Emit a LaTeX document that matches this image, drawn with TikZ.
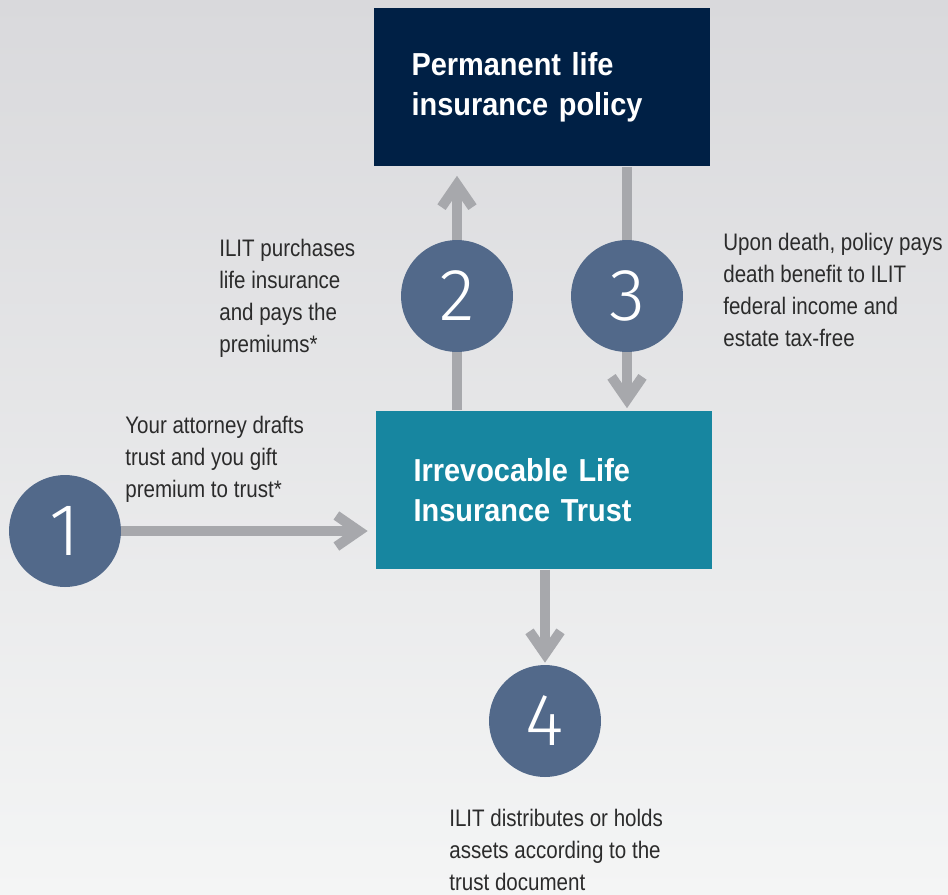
\documentclass[tikz,border=0pt]{standalone}
\usepackage{fontspec}
\setmainfont{Liberation Sans}
\newfontfamily\labelfont{Liberation Sans}[FakeStretch=0.86]
\newfontfamily\titlefont{Liberation Sans}[FakeStretch=0.91]
\newfontfamily\digitfont{Fira Sans}[UprightFont={* Light}]
\usetikzlibrary{arrows.meta, positioning}
\definecolor{policynavy}{RGB}{0, 32, 69}
\definecolor{trustteal}{RGB}{23, 134, 160}
\definecolor{stepblue}{RGB}{82, 105, 138}
\definecolor{arrowgray}{RGB}{167, 168, 172}
\definecolor{textgray}{RGB}{43, 43, 43}
\definecolor{bgtop}{RGB}{217, 217, 220}
\definecolor{bgbottom}{RGB}{244, 245, 245}
\pgfdeclarelayer{backdrop}
\pgfdeclarelayer{flow}
\pgfsetlayers{backdrop,flow,main}

\begin{document}
\begin{tikzpicture}[
    x=0.02cm, y=-0.02cm,
    box/.style={rectangle, minimum width=6.72cm, minimum height=3.18cm, inner xsep=0.75cm,
                text width=5.22cm, align=left, text=white,
                font=\titlefont\bfseries\fontsize{18.1}{22.7}\selectfont},
    stepdot/.style={circle, fill=stepblue, minimum size=2.24cm, inner sep=0pt, text=white,
                font=\digitfont\fontsize{42}{42}\selectfont},
    note/.style={anchor=north west, inner sep=0pt, align=left, text=textgray,
                font=\labelfont\fontsize{13.6}{18.2}\selectfont},
    arrow/.style={-{Straight Barb[length=0.45cm, width=0.62cm]}, line width=0.2cm, arrowgray}
]
\begin{pgfonlayer}{backdrop}
\shade[top color=bgtop, bottom color=bgbottom] (0,0) rectangle (948,894);
\end{pgfonlayer}
\useasboundingbox (0,0) rectangle (948,894);

% boxes
\node[box, fill=policynavy] (policy) at (542,87) {Permanent life\\insurance policy};
\node[box, fill=trustteal] (trust) at (544,490) {Irrevocable Life\\Insurance Trust};

% numbered steps
\node[stepdot] (one) at (65,531) {1};
\node[stepdot] (two) at (457,296) {2};
\node[stepdot] (three) at (627,296) {3};
\node[stepdot] (four) at (545,721) {4};

% step texts
\node[note] (drafttext) at (125,416) {Your attorney drafts\\trust and you gift\\premium to trust*};
\node[note] (buytext) at (219,239) {ILIT purchases\\life insurance\\and pays the\\premiums*};
\node[note] (paytext) at (723,233) {Upon death, policy pays\\death benefit to ILIT\\federal income and\\estate tax-free};
\node[note] (holdtext) at (449,809) {ILIT distributes or holds\\assets according to the\\trust document};

\begin{pgfonlayer}{flow}
\draw[arrow, shorten >=0.16cm] (one.east) -- (one.east -| trust.west);
\draw[arrow, shorten >=0.18cm] (trust.north -| two) -- (policy.south -| two);
\draw[arrow, shorten >=0.04cm] (policy.south -| three) -- (trust.north -| three);
\draw[arrow, shorten >=0.04cm] (trust.south -| four) -- (four.north);
\end{pgfonlayer}
\end{tikzpicture}
\end{document}
